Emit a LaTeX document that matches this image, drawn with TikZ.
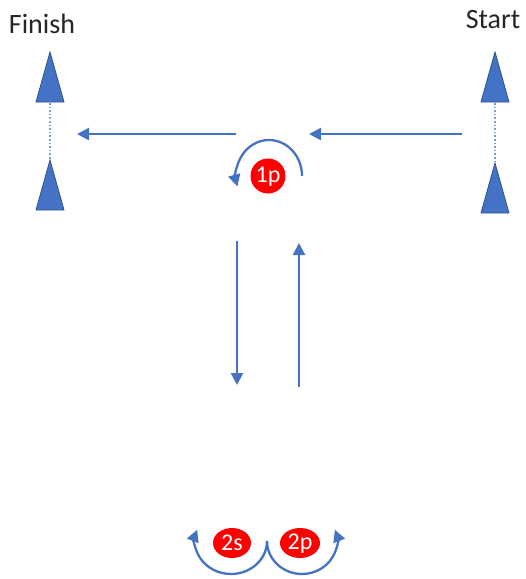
\documentclass[tikz,border=0pt]{standalone}
\usepackage{fontspec}
\setmainfont{Carlito}
\usetikzlibrary{arrows.meta}
\definecolor{cone}{HTML}{4472C4}
\definecolor{coneedge}{HTML}{2F528F}
\definecolor{path}{HTML}{4472C4}
\tikzset{
  conemark/.style={fill=cone,draw=coneedge,line width=0.8pt,line join=miter},
  run/.style={draw=path,line width=2.3pt,-{Triangle[length=12pt,width=12pt]}},
  gate/.style={draw=path!70,line width=1.6pt,dotted},
  marker/.style={fill=red,draw=none},
  markertext/.style={text=white,font=\fontsize{24}{24}\selectfont,inner sep=0pt},
  caption/.style={font=\fontsize{28}{28}\selectfont,anchor=base,inner sep=0pt,text=black!85}
}
\begin{document}
\begin{tikzpicture}[x=1pt,y=-1pt]
\useasboundingbox (0,0) rectangle (526,579);
\fill[white] (0,0) rectangle (526,579);

% labels
\node[caption] (finish) at (42,33) {Finish};
\node[caption] (start) at (493,28) {Start};

% cones of the finish gate
\draw[conemark] (50,52) -- (64,102) -- (36,102) -- cycle;
\draw[conemark] (50,160) -- (64,210) -- (36,210) -- cycle;
\coordinate (fgTop) at (50,103);
\coordinate (fgBot) at (50,159);
\draw[gate] (fgTop) -- (fgBot);

% cones of the start gate
\draw[conemark] (495,52) -- (509,102) -- (481,102) -- cycle;
\draw[conemark] (495,163) -- (509,213) -- (481,213) -- cycle;
\coordinate (sgTop) at (495,103);
\coordinate (sgBot) at (495,162);
\draw[gate] (sgTop) -- (sgBot);

% straight runs
\coordinate (r1a) at (462,134);
\coordinate (r1b) at (309,134);
\coordinate (r2a) at (236,134);
\coordinate (r2b) at (77,134);
\coordinate (r3a) at (237,241);
\coordinate (r3b) at (237,385);
\coordinate (r4a) at (299,387);
\coordinate (r4b) at (299,243);
\draw[run] (r1a) -- (r1b);
\draw[run] (r2a) -- (r2b);
\draw[run] (r3a) -- (r3b);
\draw[run] (r4a) -- (r4b);

% turn 1p
\fill[marker] (268,176) circle (17.5);
\node[markertext] (m1p) at (268,177) {1p};
\draw[run] (302,176) arc[start angle=0,end angle=-197,x radius=33,y radius=36];

% turns 2s and 2p
\fill[marker] (232,543) ellipse [x radius=19,y radius=15];
\node[markertext] (m2s) at (232,543) {2s};
\fill[marker] (300,543) ellipse [x radius=20,y radius=15];
\node[markertext] (m2p) at (300,544) {2p};
\coordinate (join) at (267,541);
\draw[run] (join) arc[start angle=0,end angle=200,x radius=36,y radius=33];
\draw[run] (join) arc[start angle=180,end angle=-20,x radius=35,y radius=33];
\end{tikzpicture}
\end{document}
